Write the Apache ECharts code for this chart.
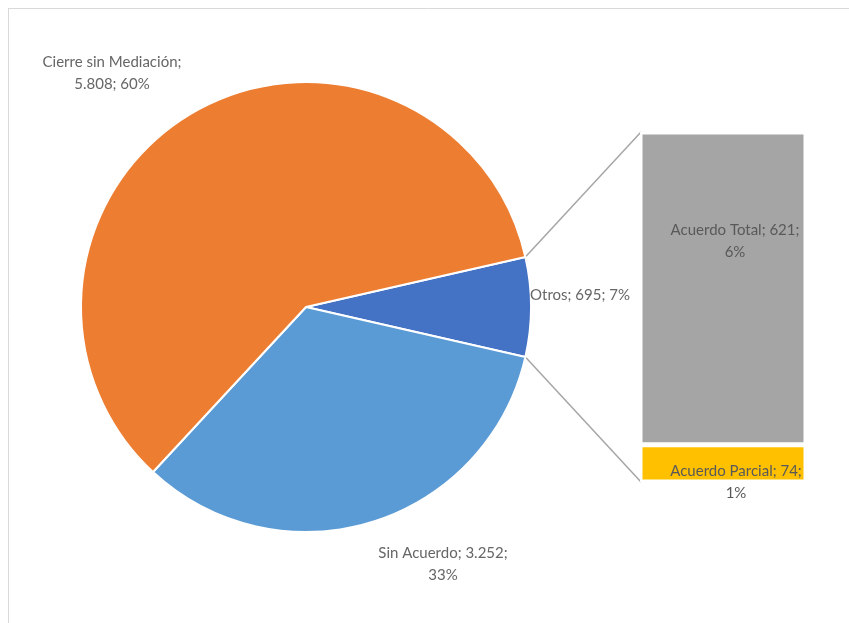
<!DOCTYPE html>
<html><head><meta charset="utf-8">
<script src="https://cdn.jsdelivr.net/npm/echarts@6/dist/echarts.min.js"></script>
<style>html,body{margin:0;padding:0;background:#fff}#c{width:849px;height:623px}</style>
</head><body><div id="c"></div>
<script>
// ---- data ----
var pieNames = ['Otros', 'Sin Acuerdo', 'Cierre sin Mediación'];
var pieValues = [695, 3252, 5808];
var subNames = ['Acuerdo Parcial', 'Acuerdo Total'];
var subValues = [74, 621];

// ---- styles / layout ----
var pieColors = ['#4472C4', '#5B9BD5', '#ED7D31'];
var subColors = ['#FFC000', '#A5A5A5'];
var pieCenter = [306, 307], pieR = 225;
var grid = {left: 641, top: 133, width: 164, height: 348};
var textColor = '#666666';
var fontFam = 'Lato, "Noto Sans", sans-serif';
var fontSize = 15;
var pieLabelPos = [[580, 295], [443, 564], [112, 73]];
var subLabelPos = [[736, 482], [735, 241]];

var total = pieValues.reduce(function (a, b) { return a + b; }, 0);
var subTotal = subValues.reduce(function (a, b) { return a + b; }, 0);
function fmt(n) { return String(n).replace(/\B(?=(\d{3})+(?!\d))/g, '.'); }
function pct(v) { return Math.round(v / total * 100) + '%'; }

var pieLabelText = [
  function (n, v) { return n + '; ' + fmt(v) + '; ' + pct(v); },
  function (n, v) { return n + '; ' + fmt(v) + ';\n' + pct(v); },
  function (n, v) { return n + ';\n' + fmt(v) + '; ' + pct(v); }
];

var startAngle = 360 * pieValues[0] / total / 2;

var chart = echarts.init(document.getElementById('c'));

var barSeries = subNames.map(function (name, i) {
  return {
    type: 'bar', name: name, stack: 'sub', barWidth: '100%',
    data: [subValues[i]],
    itemStyle: {color: subColors[i], borderColor: '#fff', borderWidth: 2.5},
    label: {
      show: true, color: '#595959', fontFamily: fontFam, fontSize: fontSize,
      lineHeight: 22, align: 'center',
      formatter: function (p) { return p.seriesName + '; ' + fmt(p.value) + ';\n' + pct(p.value); }
    },
    labelLayout: function () {
      return {x: subLabelPos[i][0], y: subLabelPos[i][1], align: 'center', verticalAlign: 'middle'};
    },
    emphasis: {disabled: true}
  };
});

chart.setOption({
  animation: false,
  backgroundColor: '#fff',
  grid: {left: grid.left - 1, top: grid.top - 1, width: grid.width + 2, height: grid.height + 2},
  xAxis: {type: 'category', data: ['Otros'], show: false},
  yAxis: {type: 'value', min: 0, max: subTotal, show: false},
  series: [{
    type: 'pie',
    center: pieCenter,
    radius: pieR,
    startAngle: startAngle,
    clockwise: true,
    avoidLabelOverlap: false,
    data: pieNames.map(function (n, i) {
      return {name: n, value: pieValues[i], itemStyle: {color: pieColors[i]}};
    }),
    itemStyle: {borderColor: '#fff', borderWidth: 2},
    label: {
      show: true, position: 'outside', color: textColor, fontFamily: fontFam,
      fontSize: fontSize, lineHeight: 22, align: 'center',
      formatter: function (p) { return pieLabelText[p.dataIndex](p.name, p.value); }
    },
    labelLine: {show: false},
    labelLayout: function (p) {
      var q = pieLabelPos[p.dataIndex];
      return {x: q[0], y: q[1], align: 'center', verticalAlign: 'middle'};
    },
    emphasis: {disabled: true}
  }].concat(barSeries)
});

// connector lines from Otros slice edges to the bar corners
var a = startAngle * Math.PI / 180;
var pTop = [pieCenter[0] + pieR * Math.cos(a), pieCenter[1] - pieR * Math.sin(a)];
var pBot = [pieCenter[0] + pieR * Math.cos(a), pieCenter[1] + pieR * Math.sin(a)];
var yTop = chart.convertToPixel({yAxisIndex: 0}, subTotal);
var yBot = chart.convertToPixel({yAxisIndex: 0}, 0);
var xBar = grid.left;
var lineStyle = {stroke: '#A6A6A6', lineWidth: 1.5};
chart.setOption({
  graphic: [
    {type: 'line', shape: {x1: pTop[0], y1: pTop[1], x2: xBar, y2: yTop}, style: lineStyle, z: 1},
    {type: 'line', shape: {x1: pBot[0], y1: pBot[1], x2: xBar, y2: yBot}, style: lineStyle, z: 1},
    {type: 'line', shape: {x1: 8, y1: 8.5, x2: 849, y2: 8.5}, style: {stroke: '#D9D9D9', lineWidth: 1}},
    {type: 'line', shape: {x1: 8.5, y1: 8, x2: 8.5, y2: 623}, style: {stroke: '#D9D9D9', lineWidth: 1}}
  ]
});
</script></body></html>
